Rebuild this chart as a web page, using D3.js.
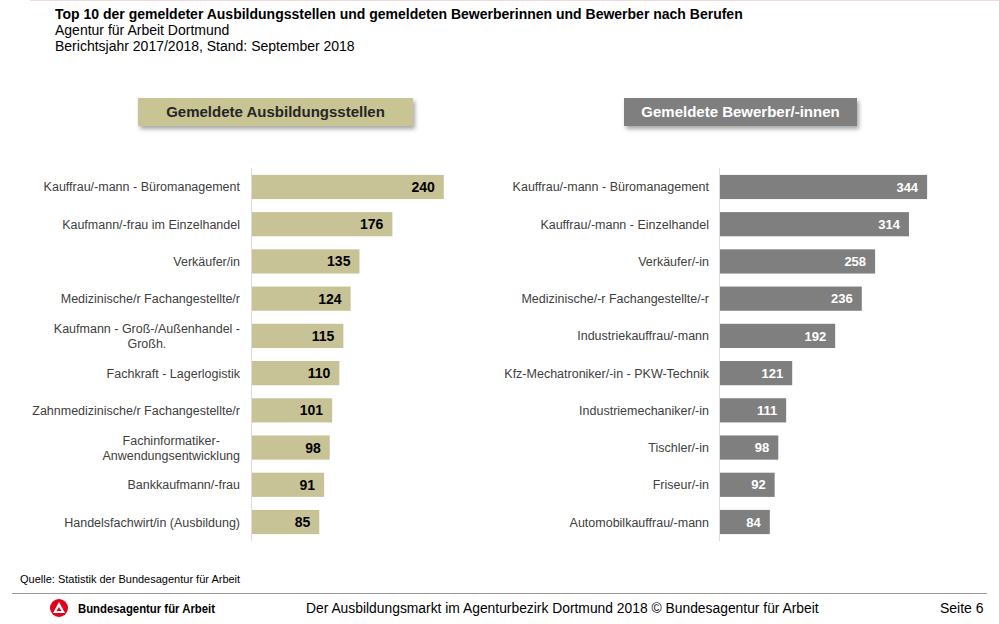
<!DOCTYPE html>
<html lang="de">
<head>
    <meta charset="UTF-8">
    <title>Top 10 Ausbildungsstellen und Bewerber - Dortmund</title>
    <script src="https://d3js.org/d3.v7.min.js"></script>
    <style>
        body {
            margin: 0;
            background: #fff;
            font-family: 'Liberation Sans', Arial, sans-serif;
        }
        svg { display: block; }
        .cat { font-size: 12.5px; fill: #404040; }
        .title { font-size: 14px; fill: #000; }
    </style>
</head>
<body>
    <svg width="999" height="624"></svg>
    <script>
        // data
        const stellenCats = [
            "Kauffrau/-mann - Büromanagement",
            "Kaufmann/-frau im Einzelhandel",
            "Verkäufer/in",
            "Medizinische/r Fachangestellte/r",
            "Kaufmann - Groß-/Außenhandel -|Großh.",
            "Fachkraft - Lagerlogistik",
            "Zahnmedizinische/r Fachangestellte/r",
            "Fachinformatiker-|Anwendungsentwicklung",
            "Bankkaufmann/-frau",
            "Handelsfachwirt/in (Ausbildung)"
        ];
        const stellenValues = [240, 176, 135, 124, 115, 110, 101, 98, 91, 85];

        const bewerberCats = [
            "Kauffrau/-mann - Büromanagement",
            "Kauffrau/-mann - Einzelhandel",
            "Verkäufer/-in",
            "Medizinische/-r Fachangestellte/-r",
            "Industriekauffrau/-mann",
            "Kfz-Mechatroniker/-in - PKW-Technik",
            "Industriemechaniker/-in",
            "Tischler/-in",
            "Friseur/-in",
            "Automobilkauffrau/-mann"
        ];
        const bewerberValues = [344, 314, 258, 236, 192, 121, 111, 98, 92, 84];

        const svg = d3.select("svg");

        // drop shadow for the header boxes
        const defs = svg.append("defs");
        const f = defs.append("filter").attr("id", "shadow")
            .attr("x", "-10%").attr("y", "-30%").attr("width", "120%").attr("height", "180%");
        f.append("feDropShadow").attr("dx", 2).attr("dy", 3).attr("stdDeviation", 2)
            .attr("flood-color", "#000").attr("flood-opacity", 0.35);

        // faint top rule
        svg.append("line").attr("x1", 30).attr("x2", 999).attr("y1", 0.5).attr("y2", 0.5)
            .attr("stroke", "#f0d8dc").attr("stroke-width", 1);

        // titles
        svg.append("text").attr("class", "title").attr("x", 55).attr("y", 19)
            .style("font-weight", "bold")
            .text("Top 10 der gemeldeter Ausbildungsstellen und gemeldeten Bewerberinnen und Bewerber nach Berufen");
        svg.append("text").attr("class", "title").attr("x", 55).attr("y", 35).text("Agentur für Arbeit Dortmund");
        svg.append("text").attr("class", "title").attr("x", 55).attr("y", 51).text("Berichtsjahr 2017/2018, Stand: September 2018");

        function drawPanel(opts) {
            const y = d3.scaleBand().domain(opts.cats).range([168, 541])
                .paddingInner(0.35).paddingOuter(0.185);
            const x = d3.scaleLinear().domain([0, opts.max]).range([opts.x0, opts.x0 + opts.w]);

            // header box
            const hb = svg.append("g");
            hb.append("rect").attr("x", opts.hx).attr("y", 98).attr("width", opts.hw).attr("height", 28)
                .attr("fill", opts.headFill).attr("filter", "url(#shadow)");
            hb.append("text").attr("x", opts.hx + opts.hw / 2).attr("y", 117)
                .attr("text-anchor", "middle").style("font-size", "15px").style("font-weight", "bold")
                .attr("fill", opts.headText).text(opts.header);

            // axis line
            svg.append("line").attr("x1", opts.x0 + 0.5).attr("x2", opts.x0 + 0.5)
                .attr("y1", 168).attr("y2", 541).attr("stroke", "#dcdcdc");

            const rows = svg.append("g").selectAll("g").data(opts.cats.map((c, i) => ({ c, v: opts.vals[i] })))
                .join("g");

            rows.append("rect")
                .attr("x", x(0) + 1)
                .attr("y", d => y(d.c))
                .attr("width", d => x(d.v) - x(0) - 1)
                .attr("height", y.bandwidth())
                .attr("fill", opts.barFill);

            rows.append("text")
                .attr("x", d => x(d.v) - 9)
                .attr("y", d => y(d.c) + y.bandwidth() / 2)
                .attr("dy", "0.36em")
                .attr("text-anchor", "end")
                .style("font-size", opts.valSize)
                .style("font-weight", "bold")
                .attr("fill", opts.valFill)
                .text(d => d.v);

            // category labels (some split on two lines)
            rows.each(function (d) {
                const lines = d.c.split("|");
                const cy = y(d.c) + y.bandwidth() / 2;
                const t = d3.select(this).append("text").attr("class", "cat");
                if (lines.length === 1) {
                    t.attr("x", opts.labelX).attr("y", cy).attr("dy", "0.36em")
                        .attr("text-anchor", "end").text(lines[0]);
                } else {
                    t.attr("text-anchor", "middle");
                    lines.forEach((l, k) => {
                        t.append("tspan").attr("y", cy + (k - 0.5) * 15).attr("dy", "0.36em").text(l);
                    });
                    const w = d3.max(t.selectAll("tspan").nodes(), n => n.getComputedTextLength());
                    t.selectAll("tspan").attr("x", opts.labelX - w / 2);
                }
            });
        }

        drawPanel({
            cats: stellenCats, vals: stellenValues, max: 300, x0: 251, w: 241,
            labelX: 240, barFill: "#c8c396", valFill: "#000", valSize: "14px",
            header: "Gemeldete Ausbildungsstellen", hx: 138, hw: 275,
            headFill: "#c9c494", headText: "#262626"
        });

        drawPanel({
            cats: bewerberCats, vals: bewerberValues, max: 400, x0: 719, w: 242,
            labelX: 709, barFill: "#7f7f7f", valFill: "#fff", valSize: "13px",
            header: "Gemeldete Bewerber/-innen", hx: 624, hw: 233,
            headFill: "#7f7f7f", headText: "#fff"
        });

        // footer
        svg.append("text").attr("x", 20).attr("y", 583).style("font-size", "11px").attr("fill", "#000")
            .text("Quelle: Statistik der Bundesagentur für Arbeit");
        svg.append("line").attr("x1", 12).attr("x2", 987).attr("y1", 593.5).attr("y2", 593.5)
            .attr("stroke", "#9a9a9a").attr("stroke-width", 1.2);

        // logo
        const logo = svg.append("g").attr("transform", "translate(59,608)");
        logo.append("circle").attr("r", 9).attr("fill", "#e2001a");
        logo.append("path").attr("d", "M0,-6 L6,5 L-6,5 Z M0,-1 L-2.5,3 L2.5,3 Z")
            .attr("fill", "#fff").attr("fill-rule", "evenodd");
        svg.append("text").attr("x", 78).attr("y", 613).style("font-size", "12px")
            .style("font-weight", "bold").attr("fill", "#000")
            .attr("textLength", 137).attr("lengthAdjust", "spacingAndGlyphs")
            .text("Bundesagentur für Arbeit");
        svg.append("text").attr("x", 306).attr("y", 613).style("font-size", "13.85px").attr("fill", "#000")
            .text("Der Ausbildungsmarkt im Agenturbezirk Dortmund 2018 © Bundesagentur für Arbeit");
        svg.append("text").attr("x", 940).attr("y", 613).style("font-size", "14px").attr("fill", "#000")
            .text("Seite 6");
    </script>
</body>
</html>
